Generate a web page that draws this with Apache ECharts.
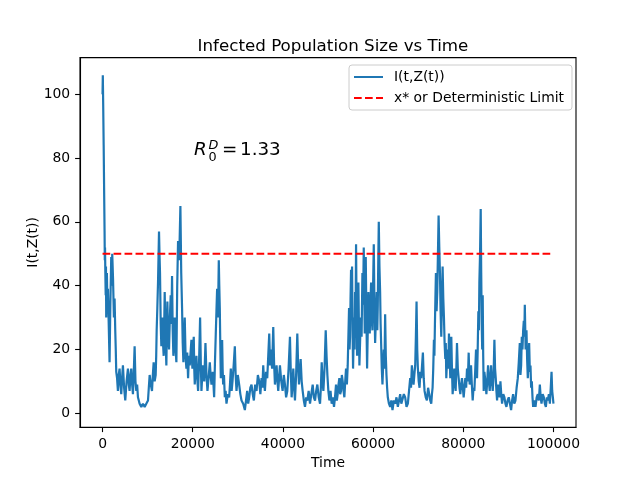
<!DOCTYPE html>
<html>

<head>
    <meta charset="utf-8">
    <title>Infected Population Size vs Time</title>
    <script src="https://cdn.jsdelivr.net/npm/echarts@6/dist/echarts.min.js"></script>
    <style>
        html, body { margin: 0; padding: 0; background: #fff; }
    </style>
</head>

<body>
    <div id="main" style="width: 640px;height:480px;"></div>
    <script type="text/javascript">
        // time points of the simulated path (10 per line)
        var timeVals = [
            0, 60, 150, 250, 350, 450, 500, 550, 620, 700,
            760, 815, 890, 963, 1080, 1186, 1370, 1556, 1740, 1927,
            2040, 2149, 2330, 2519, 2670, 2816, 2930, 3038, 3220, 3409,
            3590, 3779, 3960, 4150, 4330, 4520, 4780, 5039, 5330, 5632,
            5820, 6002, 6190, 6373, 6560, 6743, 6930, 7114, 7300, 7484,
            7670, 7855, 8220, 8596, 8960, 9337, 9700, 10078, 10260, 10448,
            10700, 10967, 11150, 11337, 11560, 11782, 11900, 12004, 12150, 12301,
            12523, 12630, 12745, 12900, 13042, 13150, 13264, 13410, 13560, 13680,
            13783, 13960, 14153, 14260, 14375, 14560, 14746, 14930, 15116, 15260,
            15413, 15560, 15709, 15860, 16006, 16190, 16376, 16560, 16747, 17000,
            17265, 17450, 17636, 17780, 17932, 18080, 18229, 18410, 18599, 18780,
            18970, 19150, 19340, 19520, 19711, 19820, 19933, 20080, 20230, 20340,
            20452, 20640, 20822, 21000, 21193, 21420, 21637, 21790, 21934, 22120,
            22304, 22560, 22823, 23050, 23267, 23520, 23786, 23970, 24157, 24450,
            24749, 24930, 25114, 25260, 25410, 25600, 25781, 25890, 26003, 26110,
            26225, 26370, 26522, 26630, 26744, 26930, 27115, 27300, 27485, 27780,
            28078, 28260, 28448, 28630, 28819, 29080, 29338, 29520, 29708, 30000,
            30301, 30560, 30820, 31190, 31561, 31820, 32079, 32300, 32524, 32780,
            33043, 33300, 33561, 33850, 34154, 34450, 34747, 35000, 35266, 35450,
            35636, 35820, 36007, 36260, 36525, 36750, 36970, 37150, 37340, 37600,
            37859, 38040, 38230, 38420, 38600, 38790, 38971, 39150, 39341, 39640,
            39934, 40200, 40453, 40710, 40971, 41260, 41564, 41750, 41935, 42120,
            42305, 42490, 42676, 42930, 43194, 43380, 43565, 43750, 43935, 44160,
            44380, 44640, 44899, 45160, 45417, 45710, 46010, 46300, 46603, 46860,
            47122, 47380, 47640, 47940, 48233, 48420, 48604, 48790, 48974, 49230,
            49493, 49680, 49863, 50080, 50308, 50560, 50815, 51070, 51334, 51550,
            51779, 51960, 52149, 52330, 52520, 52700, 52890, 53070, 53261, 53450,
            53631, 53820, 54002, 54190, 54372, 54520, 54669, 54780, 54891, 55000,
            55113, 55220, 55335, 55450, 55557, 55670, 55780, 55890, 56002, 56110,
            56224, 56330, 56446, 56600, 56743, 56850, 56965, 57110, 57262, 57450,
            57632, 57780, 57929, 58040, 58151, 58260, 58373, 58520, 58670, 58820,
            58966, 59110, 59263, 59410, 59559, 59700, 59856, 60000, 60152, 60300,
            60449, 60630, 60819, 60930, 61041, 61150, 61264, 61410, 61560, 61670,
            61782, 61930, 62079, 62230, 62375, 62520, 62672, 62820, 62968, 63110,
            63265, 63520, 63784, 64040, 64302, 64600, 64895, 65190, 65488, 65750,
            66007, 66260, 66525, 66820, 67118, 67410, 67711, 67970, 68230, 68410,
            68600, 68790, 68971, 69150, 69341, 69490, 69638, 69790, 69934, 70120,
            70305, 70490, 70675, 70860, 71046, 71230, 71416, 71680, 71935, 72200,
            72454, 72680, 72898, 73050, 73195, 73340, 73491, 73600, 73713, 73820,
            73936, 74080, 74232, 74380, 74529, 74680, 74825, 74970, 75121, 75270,
            75418, 75570, 75714, 75860, 76012, 76120, 76234, 76380, 76530, 76680,
            76827, 76980, 77123, 77230, 77345, 77490, 77642, 77830, 78012, 78160,
            78309, 78460, 78605, 78790, 78976, 79160, 79346, 79530, 79717, 79900,
            80087, 80270, 80458, 80640, 80828, 81010, 81199, 81310, 81421, 81570,
            81717, 81900, 82088, 82270, 82458, 82640, 82829, 82940, 83051, 83200,
            83347, 83460, 83570, 83720, 83866, 83980, 84088, 84200, 84311, 84420,
            84533, 84680, 84829, 84980, 85126, 85310, 85496, 85680, 85867, 86010,
            86163, 86350, 86534, 86720, 86904, 87050, 87201, 87350, 87497, 87680,
            87868, 88050, 88238, 88420, 88609, 88870, 89127, 89350, 89572, 89830,
            90091, 90350, 90609, 90830, 91054, 91310, 91573, 91830, 92091, 92310,
            92536, 92680, 92832, 92980, 93129, 93280, 93425, 93540, 93647, 93830,
            94018, 94160, 94314, 94460, 94611, 94760, 94907, 95050, 95204, 95350,
            95500, 95760, 96019, 96280, 96537, 96760, 96982, 97170, 97352, 97610,
            97871, 98090, 98316, 98540, 98760, 98980, 99205, 99400, 99575, 99720,
            99871, 100000
        ];
        // I(t,Z(t)) (10 per line, same order)
        var infected = [
            100, 106, 96, 84, 70, 57, 48, 52, 44, 37,
            46, 30, 38, 44, 34, 39, 28, 16, 35, 49,
            40, 50, 42, 30, 36, 26, 20, 13, 11, 7,
            12, 14, 9, 6, 11, 15, 8, 4, 10, 14,
            9, 7, 12, 14, 9, 6, 13, 21, 10, 7,
            9, 5, 3, 2, 3, 2, 3, 4, 8, 12,
            9, 7, 12, 16, 10, 12, 18, 26, 33, 41,
            57, 50, 44, 28, 21, 27, 30, 22, 18, 28,
            38, 24, 15, 26, 35, 24, 20, 30, 37, 28,
            43, 26, 18, 24, 30, 20, 16, 40, 54, 48,
            65, 44, 33, 22, 16, 24, 30, 18, 14, 19,
            11, 18, 15, 19, 23, 17, 14, 20, 24, 14,
            9, 14, 18, 11, 7, 17, 30, 16, 7, 12,
            15, 10, 22, 12, 7, 11, 16, 12, 9, 13,
            5, 16, 25, 32, 39, 30, 48, 40, 33, 22,
            11, 18, 23, 14, 9, 12, 5, 7, 3, 6,
            5, 9, 14, 7, 10, 15, 21, 12, 7, 12,
            9, 6, 4, 3, 1, 4, 7, 3, 5, 8,
            9, 6, 4, 9, 7, 12, 10, 6, 11, 8,
            15, 10, 7, 13, 11, 18, 25, 15, 20, 14,
            27, 16, 9, 12, 15, 10, 7, 11, 15, 10,
            7, 12, 9, 5, 7, 14, 24, 13, 5, 9,
            14, 8, 4, 12, 25, 15, 9, 13, 17, 10,
            7, 4, 2, 5, 4, 7, 3, 6, 9, 5,
            4, 7, 9, 5, 3, 8, 16, 10, 7, 14,
            26, 18, 12, 7, 4, 7, 3, 5, 2, 5,
            9, 4, 6, 9, 11, 6, 7, 12, 10, 7,
            5, 10, 14, 9, 15, 24, 33, 20, 24, 36,
            45, 30, 46, 26, 14, 22, 30, 20, 38, 28,
            53, 34, 18, 30, 41, 28, 15, 22, 30, 24,
            44, 34, 52, 38, 25, 36, 49, 30, 14, 26,
            38, 30, 25, 34, 41, 30, 26, 40, 53, 34,
            22, 30, 38, 26, 34, 48, 60, 46, 38, 28,
            22, 14, 9, 15, 20, 14, 31, 18, 12, 8,
            5, 3, 2, 4, 1, 4, 3, 5, 2, 4,
            6, 3, 3, 6, 5, 2, 3, 7, 11, 8,
            15, 12, 9, 12, 15, 24, 35, 20, 14, 10,
            8, 13, 11, 15, 19, 11, 7, 5, 4, 8,
            6, 4, 3, 6, 8, 14, 23, 18, 28, 36,
            44, 32, 38, 50, 62, 52, 44, 32, 24, 36,
            46, 36, 30, 22, 17, 22, 11, 16, 20, 14,
            25, 17, 11, 16, 24, 14, 6, 10, 14, 9,
            7, 14, 22, 14, 11, 8, 6, 9, 11, 8,
            5, 8, 11, 8, 14, 10, 19, 13, 9, 12,
            15, 9, 4, 8, 7, 13, 20, 14, 11, 20,
            32, 26, 41, 50, 64, 44, 28, 20, 37, 18,
            7, 13, 11, 9, 6, 10, 15, 10, 7, 11,
            15, 10, 7, 12, 23, 14, 11, 7, 4, 9,
            7, 5, 10, 6, 3, 6, 5, 3, 2, 4,
            5, 3, 1, 4, 6, 3, 4, 8, 11, 16,
            22, 12, 15, 24, 20, 26, 29, 24, 34, 20,
            26, 17, 11, 16, 22, 13, 15, 8, 10, 5,
            2, 4, 2, 5, 6, 4, 9, 5, 3, 6,
            5, 3, 2, 5, 4, 6, 3, 8, 13, 7,
            5, 3
        ];
        // deterministic limit x*
        var limitTime = [0, 100000];
        var limitVal = [50, 50];
        var xTicks = [0, 20000, 40000, 60000, 80000, 100000];
        var yTicks = [0, 20, 40, 60, 80, 100];

        var pathData = [];
        for (var i = 0; i < timeVals.length; i++) {
            pathData.push([timeVals[i], infected[i]]);
        }
        var limitData = [];
        for (var j = 0; j < limitTime.length; j++) {
            limitData.push([limitTime[j], limitVal[j]]);
        }

        var FONT = 'DejaVu Sans';
        var myChart = echarts.init(document.getElementById('main'));
        myChart.setOption({
            animation: false,
            backgroundColor: '#fff',
            textStyle: { fontFamily: FONT },
            title: {
                text: 'Infected Population Size vs Time',
                left: 328,
                top: 33,
                textAlign: 'center',
                textStyle: { fontFamily: FONT, fontSize: 16.7, fontWeight: 'normal', color: '#000' }
            },
            legend: {
                orient: 'vertical',
                left: 349,
                top: 65,
                padding: [5, 8, 5, 4],
                itemWidth: 29,
                itemHeight: 14,
                itemGap: 7,
                itemStyle: { opacity: 0 },
                borderColor: '#cccccc',
                borderWidth: 1,
                borderRadius: 3,
                backgroundColor: '#fff',
                textStyle: { fontFamily: FONT, fontSize: 13.9, color: '#000', padding: [0, 0, 0, 6] },
                data: ['I(t,Z(t))', 'x* or Deterministic Limit']
            },
            grid: {
                left: 80, right: 64, top: 57.6, bottom: 52.8,
                show: true, borderColor: '#000', borderWidth: 1.1, backgroundColor: 'transparent'
            },
            xAxis: {
                type: 'value',
                min: -5000,
                max: 105000,
                name: 'Time',
                nameLocation: 'middle',
                nameGap: 26,
                nameTextStyle: { fontFamily: FONT, fontSize: 13.9, color: '#000' },
                splitLine: { show: false },
                axisLine: { show: true, onZero: false, lineStyle: { color: '#000', width: 1.1 } },
                axisTick: { show: true, length: 4.9, customValues: xTicks, lineStyle: { color: '#000', width: 1.1 } },
                axisLabel: {
                    customValues: xTicks, margin: 9.8, color: '#000', fontFamily: FONT, fontSize: 13.9,
                    formatter: function (v) { return String(v); }
                }
            },
            yAxis: {
                type: 'value',
                min: -4.37,
                max: 111.5,
                name: 'I(t,Z(t))',
                nameLocation: 'middle',
                nameRotate: 90,
                nameMoveOverlap: false,
                nameGap: 40,
                nameTextStyle: { fontFamily: FONT, fontSize: 13.9, color: '#000' },
                splitLine: { show: false },
                axisLine: { show: true, onZero: false, lineStyle: { color: '#000', width: 1.1 } },
                axisTick: { show: true, length: 4.9, customValues: yTicks, lineStyle: { color: '#000', width: 1.1 } },
                axisLabel: { customValues: yTicks, margin: 9.8, color: '#000', fontFamily: FONT, fontSize: 13.9 }
            },
            graphic: [
                { type: 'text', left: 194, top: 141, style: { text: 'R', font: 'italic 18.3px "DejaVu Sans"', fill: '#000' } },
                { type: 'text', left: 208.5, top: 139, style: { text: 'D', font: 'italic 12.8px "DejaVu Sans"', fill: '#000' } },
                { type: 'text', left: 208.5, top: 151, style: { text: '0', font: '12.8px "DejaVu Sans"', fill: '#000' } },
                { type: 'text', left: 222, top: 141, style: { text: '=', font: '18.3px "DejaVu Sans"', fill: '#000' } },
                { type: 'text', left: 240, top: 141, style: { text: '1.33', font: '18.3px "DejaVu Sans"', fill: '#000' } }
            ],
            series: [
                {
                    name: 'I(t,Z(t))',
                    type: 'line',
                    data: pathData,
                    symbol: 'none',
                    showSymbol: false,
                    lineStyle: { color: '#1f77b4', width: 2.2 },
                    itemStyle: { color: '#1f77b4' }
                },
                {
                    name: 'x* or Deterministic Limit',
                    type: 'line',
                    data: limitData,
                    symbol: 'none',
                    showSymbol: false,
                    lineStyle: { color: '#ff0000', width: 2.08, type: [7.7, 3.3] },
                    itemStyle: { color: '#ff0000' }
                }
            ]
        });
    </script>
</body>

</html>
